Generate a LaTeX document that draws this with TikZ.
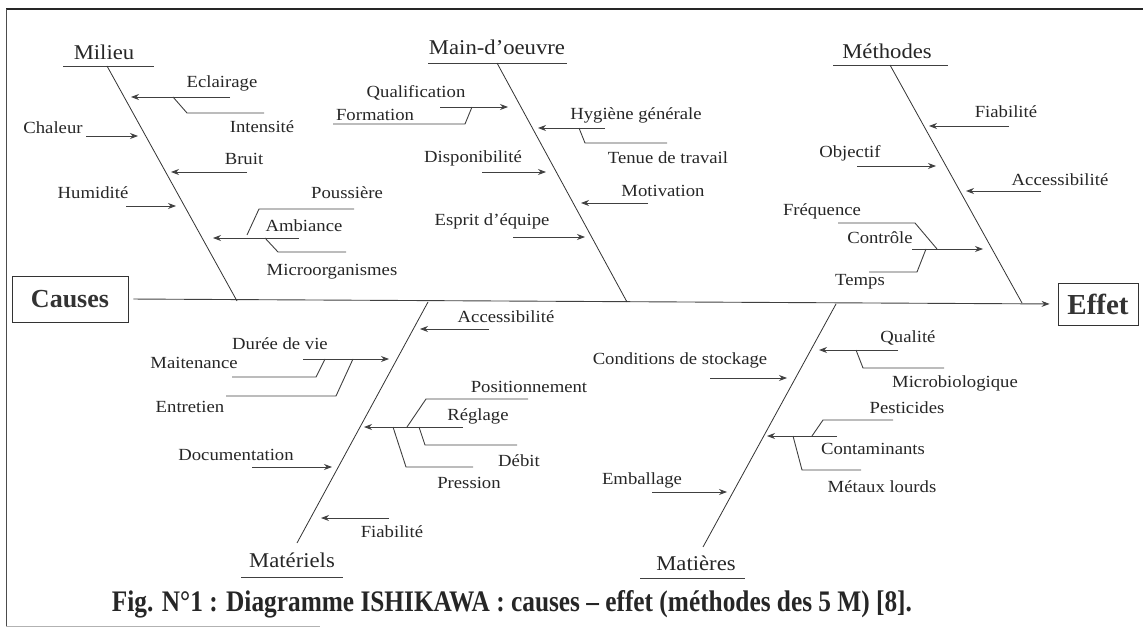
\documentclass[tikz,border=0pt]{standalone}
\usepackage{fontspec}
\setmainfont{Liberation Serif}
\usetikzlibrary{arrows.meta}
\newcommand\fbcause[5]{%
  \node[lbl] (#1) at (#2) {\scalebox{1.1}[1]{#3}};
  \coordinate (#1-s) at (#4); \coordinate (#1-e) at (#5);
  \draw[arr] (#1-s) -- (#1-e);}
\newcommand\fbsub[6]{%
  \node[lbl] (#1) at (#2) {\scalebox{1.1}[1]{#3}};
  \coordinate (#1-a) at (#4); \coordinate (#1-b) at (#5); \coordinate (#1-c) at (#6);
  \draw[twig] (#1-a) -- (#1-b) -- (#1-c);}
\newcommand\fbhead[7]{%
  \node[hdr] (#1) at (#2) {\scalebox{1.08}[1]{#3}};
  \coordinate (#1-u1) at (#4); \coordinate (#1-u2) at (#5);
  \coordinate (#1-top) at (#6); \coordinate (#1-bot) at (#7);
  \draw[twig] (#1-u1) -- (#1-u2);
  \draw[bone] (#1-top) -- (#1-bot);}
\begin{document}
\begin{tikzpicture}[x=1pt,y=-1pt,
  lbl/.style={font=\fontsize{17}{19}\selectfont, inner sep=0pt, text=black!85},
  hdr/.style={font=\fontsize{21}{23}\selectfont, inner sep=0pt, text=black!85},
  bone/.style={line width=0.8pt, draw=black!80},
  twig/.style={line width=0.9pt, draw=black!75},
  arr/.style={twig, -{Stealth[length=8pt,width=6pt]}},
  box/.style={draw=black!80, line width=0.9pt, inner sep=0pt, text=black!80}]
\useasboundingbox (0,0) rectangle (1143,636);
% frame
\draw[line width=1.3pt, draw=black!85] (6,9) -- (1143,9);
\draw[line width=0.8pt, draw=black!70] (6,9) -- (6,626);
\draw[line width=0.6pt, draw=black!30] (6,626) -- (320,626);
% spine
\node[box, minimum width=116pt, minimum height=46pt, font=\bfseries\fontsize{26}{28}\selectfont] (causes) at (70,299) {Causes};
\node[box, minimum width=80pt, minimum height=42pt, font=\bfseries\fontsize{29}{32}\selectfont] (effet) at (1098,304) {Effet};
\draw[arr, shorten <=5pt, shorten >=8pt] (causes.east) -- (effet.west);
% Milieu
\fbhead{milieu}{104,52}{Milieu}{63,66}{154,66}{107,66}{237,301}
\fbcause{eclairage}{222,83}{Eclairage}{230,97}{131,97}
\fbsub{intensite}{262,127}{Intensité}{173,97}{187,113}{264,113}
\fbcause{chaleur}{53,128}{Chaleur}{86,136}{138,136}
\fbcause{bruit}{244,159}{Bruit}{247,172}{171,172}
\fbcause{humidite}{93,193}{Humidité}{126,206}{176,206}
\fbsub{poussiere}{347,193}{Poussière}{354,209}{259,209}{247,235}
\fbcause{ambiance}{304,226}{Ambiance}{299,238}{213,238}
\fbsub{microorg}{332,272}{Microorganismes}{265,238}{278,252}{346,252}
% Main-d'oeuvre
\fbhead{mainoeuvre}{497,47}{Main-d'oeuvre}{428,63}{567,63}{497,63}{627,302}
\fbcause{qualification}{416,93}{Qualification}{440,107}{508,107}
\fbsub{formation}{375,115}{Formation}{333,124}{465,124}{472,107}
\fbcause{hygiene}{636,115}{Hygiène générale}{605,128}{538,128}
\fbsub{tenue}{668,158}{Tenue de travail}{579,128}{585,143}{667,143}
\fbcause{dispo}{473,158}{Disponibilité}{482,172}{546,172}
\fbcause{motivation}{663,191}{Motivation}{648,203}{581,203}
\fbcause{esprit}{492,221}{Esprit d’équipe}{513,237}{585,237}
% Methodes
\fbhead{methodes}{887,51}{Méthodes}{833,65}{948,65}{890,65}{1022,303}
\fbcause{fiabm}{1006,112}{Fiabilité}{1009,126}{929,126}
\fbcause{objectif}{850,153}{Objectif}{857,166}{936,166}
\fbcause{accm}{1060,180}{Accessibilité}{1041,191}{966,191}
\fbsub{frequence}{822,211}{Fréquence}{838,223}{915,223}{937,249}
\fbcause{controle}{880,238}{Contrôle}{912,249}{983,249}
\fbsub{temps}{860,282}{Temps}{869,272}{917,272}{926,249}
% Materiels
\fbhead{materiels}{292,560}{Matériels}{241,577}{343,577}{428,302}{297,543}
\fbcause{accmat}{506,317}{Accessibilité}{489,329}{420,329}
\fbcause{duree}{280,344}{Durée de vie}{303,359}{389,359}
\fbsub{maitenance}{194,363}{Maitenance}{232,377}{316,377}{325,359}
\fbsub{entretien}{190,407}{Entretien}{226,396}{336,396}{353,359}
\fbsub{position}{529,387}{Positionnement}{528,399}{426,399}{407,427}
\fbcause{reglage}{478,416}{Réglage}{463,427}{364,427}
\fbsub{debit}{519,461}{Débit}{419,427}{425,445}{517,445}
\fbsub{pression}{469,483}{Pression}{393,427}{406,467}{473,467}
\fbcause{documentation}{236,455}{Documentation}{252,467}{332,467}
\fbcause{fiabmat}{392,532}{Fiabilité}{389,518}{321,518}
% Matieres
\fbhead{matieres}{696,563}{Matières}{640,578}{745,578}{836,304}{703,547}
\fbcause{qualite}{908,338}{Qualité}{898,350}{819,350}
\fbsub{microbio}{955,383}{Microbiologique}{856,350}{863,368}{944,368}
\fbcause{stockage}{680,360}{Conditions de stockage}{710,378}{787,378}
\fbsub{pesticides}{907,408}{Pesticides}{893,420}{823,420}{812,436}
\fbcause{contaminants}{873,449}{Contaminants}{837,436}{767,436}
\fbsub{metaux}{882,487}{Métaux lourds}{793,436}{802,470}{861,470}
\fbcause{emballage}{642,480}{Emballage}{652,492}{727,492}
% caption
\node[inner sep=0pt, text=black!85] (caption) at (512,604) {\resizebox{800pt}{21pt}{\bfseries Fig. N°1 : Diagramme ISHIKAWA : causes – effet (méthodes des 5 M) [8].}};
\end{tikzpicture}
\end{document}
